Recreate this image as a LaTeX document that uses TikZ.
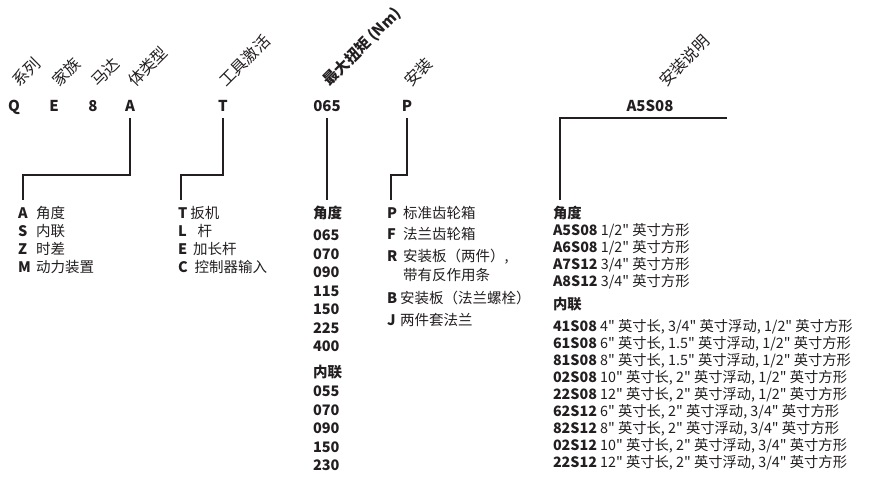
\documentclass[tikz,border=0pt]{standalone}
\usepackage{fontspec}
\setmainfont{Noto Sans CJK SC}[Ligatures=TeXOff]
\usetikzlibrary{positioning}
\definecolor{ink}{HTML}{231F20}

\begin{document}
\begin{tikzpicture}[x=1pt, y=-1pt, line width=1.6pt, draw=ink, text=ink,
    code/.style={font=\bfseries\fontsize{15}{17}\selectfont, text height=10.5pt, text depth=0pt, inner xsep=0pt, inner ysep=6pt},
    lbl/.style={font=\fontsize{16}{18}\selectfont, rotate=45, inner sep=0pt},
    list/.style={align=left, anchor=north west, inner sep=0pt, outer xsep=0pt, outer ysep=6pt}]
        \useasboundingbox (0,0) rectangle (871,487);

        % code letters
        \node[code] (cQ) at (14,106) {Q};
        \node[code] (cE) at (54,106) {E};
        \node[code] (c8) at (93,106) {8};
        \node[code] (cA) at (130,106) {A};
        \node[code] (cT) at (223,106) {T};
        \node[code] (cNm) at (327,106) {065};
        \node[code] (cP) at (407,106) {P};
        \node[code] (cIns) at (650,106) {A5S08};
        \coordinate (insR) at ([xshift=77pt]cIns.south);

        % slanted headings
        \node[lbl, above right=4pt and 6pt of cQ.north] (nQ) {系列};
        \node[lbl, above right=4pt and 6pt of cE.north] (nE) {家族};
        \node[lbl, above right=4pt and 6pt of c8.north] (n8) {马达};
        \node[lbl, above right=4pt and 6pt of cA.north] (nA) {体类型};
        \node[lbl, above right=4pt and 4pt of cT.north] (nT) {工具激活};
        \node[lbl, above right=4pt and 5pt of cNm.north, font=\bfseries\fontsize{15}{17}\selectfont] (nNm) {最大扭矩 (Nm)};
        \node[lbl, above right=4pt and 5pt of cP.north] (nP) {安装};
        \node[lbl, above right=4pt and 17pt of cIns.north] (nIns) {安装说明};

        % option lists
        \node[list, font=\fontsize{14.5}{18}\selectfont] (lA) at (18,200) {%
            \makebox[18pt][l]{\textbf{A}}角度\\
            \makebox[18pt][l]{\textbf{S}}内联\\
            \makebox[18pt][l]{\textbf{Z}}时差\\
            \makebox[18pt][l]{\textbf{M}}动力装置};
        \node[list, font=\fontsize{14.5}{18}\selectfont] (lT) at (178,200) {%
            \textbf{T}\hspace{3pt}扳机\\
            \textbf{L}\hspace{11pt}杆\\
            \textbf{E}\hspace{6pt}加长杆\\
            \textbf{C}\hspace{7pt}控制器输入};
        \node[list, font=\bfseries\fontsize{14.5}{18.5}\selectfont] (lNm) at (313,200) {%
            角度\\[3.5pt]
            065\\ 070\\ 090\\ 115\\ 150\\ 225\\ 400\\[7.5pt]
            内联\\[0.5pt]
            055\\ 070\\ 090\\ 150\\ 230};
        \node[list, font=\fontsize{14.5}{19.5}\selectfont] (lP) at (387,200) {%
            \makebox[16pt][l]{\textbf{P}}标准齿轮箱\\[2pt]
            \makebox[16pt][l]{\textbf{F}}法兰齿轮箱\\[2pt]
            \makebox[16pt][l]{\textbf{R}}安装板（两件）,\\
            \makebox[16pt][l]{}带有反作用条\\[3pt]
            \makebox[13pt][l]{\textbf{B}}安装板（法兰螺栓）\\[2.5pt]
            \makebox[13pt][l]{\textbf{J}}两件套法兰};
        \node[list, font=\fontsize{14.3}{17}\selectfont] (lIns) at (553,200) {%
            \textbf{角度}\\
            \textbf{A5S08} 1/2" 英寸方形\\
            \textbf{A6S08} 1/2" 英寸方形\\
            \textbf{A7S12} 3/4" 英寸方形\\
            \textbf{A8S12} 3/4" 英寸方形\\[6pt]
            \textbf{内联}\\[5pt]
            \textbf{41S08}\ 4" 英寸长, 3/4" 英寸浮动, 1/2" 英寸方形\\
            \textbf{61S08}\ 6" 英寸长, 1.5" 英寸浮动, 1/2" 英寸方形\\
            \textbf{81S08}\ 8" 英寸长, 1.5" 英寸浮动, 1/2" 英寸方形\\
            \textbf{02S08}\ 10" 英寸长, 2" 英寸浮动, 1/2" 英寸方形\\
            \textbf{22S08}\ 12" 英寸长, 2" 英寸浮动, 1/2" 英寸方形\\
            \textbf{62S12} 6" 英寸长, 2" 英寸浮动, 3/4" 英寸方形\\
            \textbf{82S12} 8" 英寸长, 2" 英寸浮动, 3/4" 英寸方形\\
            \textbf{02S12} 10" 英寸长, 2" 英寸浮动, 3/4" 英寸方形\\
            \textbf{22S12} 12" 英寸长, 2" 英寸浮动, 3/4" 英寸方形};

        % connectors
        \draw (cA.south) -- ++(0,57) -| ([xshift=5pt]lA.north west);
        \draw (cT.south) -- ++(0,57) -| ([xshift=3pt]lT.north west);
        \draw (cNm.south) -- (cNm.south |- lNm.north);
        \draw (cP.south) -- ++(0,57) -| ([xshift=4pt]lP.north west);
        \draw (insR) -| ([xshift=7pt]lIns.north west);
    \end{tikzpicture}
\end{document}
